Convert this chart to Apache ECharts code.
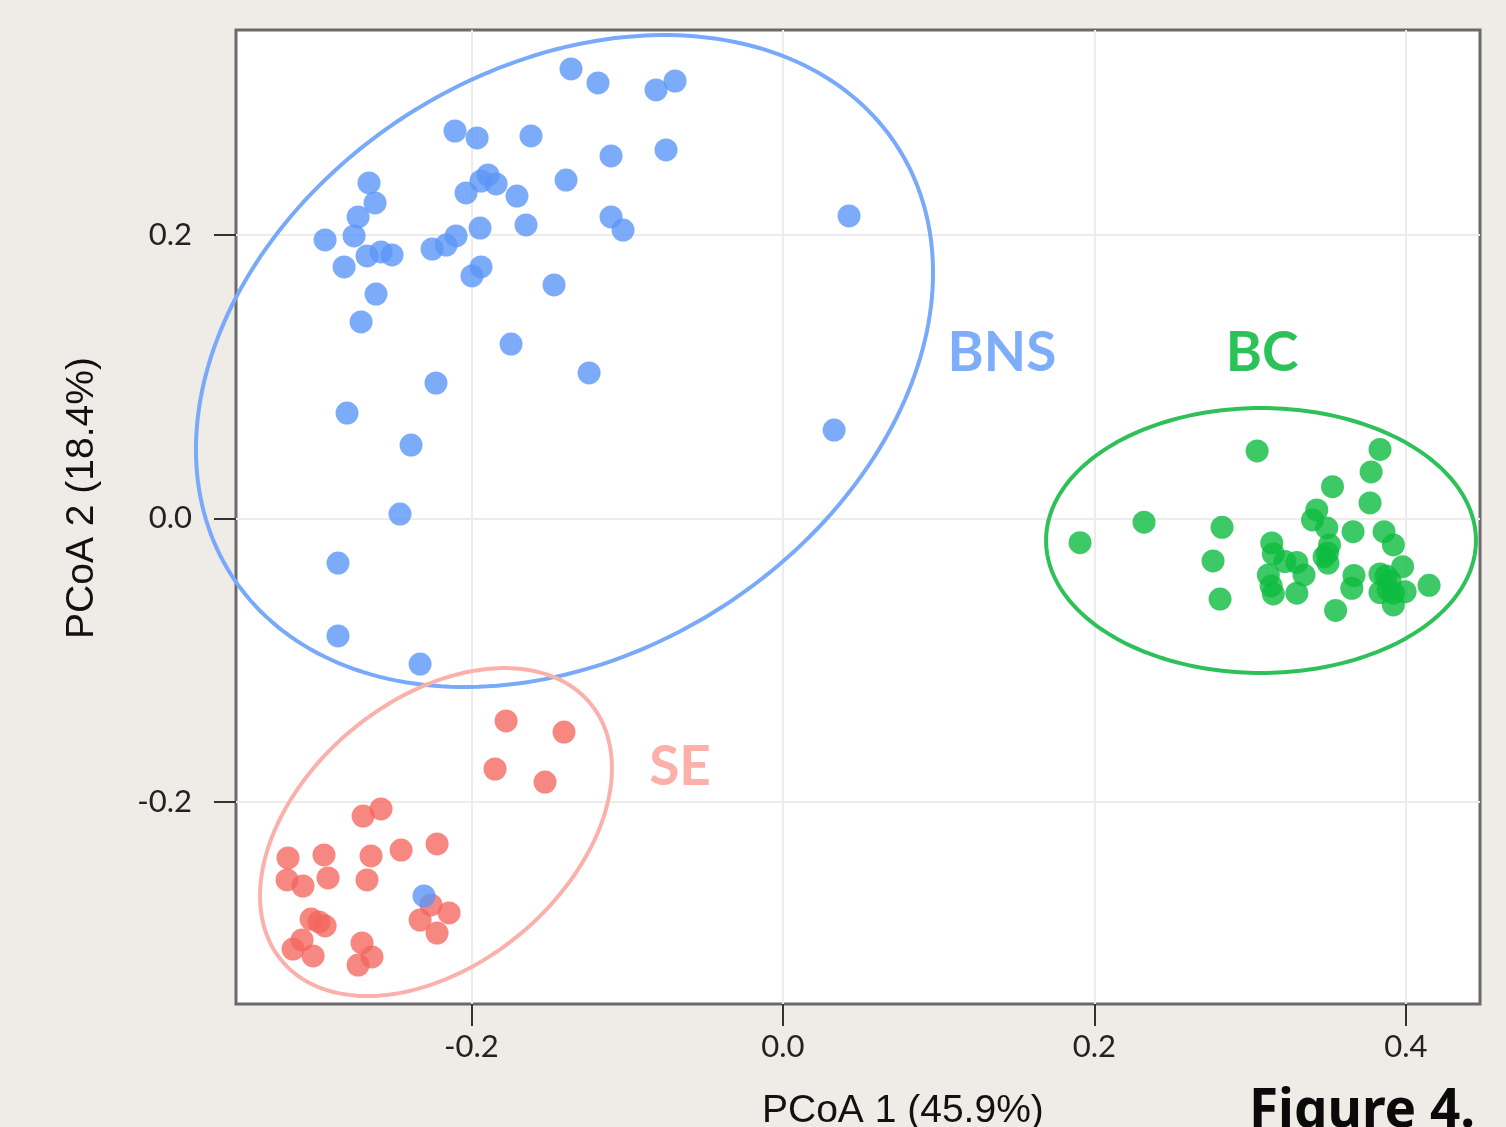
<!DOCTYPE html>
<html><head><meta charset="utf-8">
<script src="https://cdn.jsdelivr.net/npm/echarts@6/dist/echarts.min.js"></script>
<style>html,body{margin:0;padding:0;background:#efebe7;} #c{width:1506px;height:1127px;}</style>
</head><body><div id="c"></div>
<script>
// ---- data (PCoA coordinates) ----
const xRange = [-0.3511, 0.4476];
const yRange = [-0.3429, 0.3447];
const xTicks = [-0.2, 0.0, 0.2, 0.4];
const yTicks = [-0.2, 0.0, 0.2];

const bnsPoints = [
  [-0.1360,0.3172],[-0.1187,0.3073],[-0.0814,0.3024],[-0.0692,0.3087],[-0.2105,0.2734],
  [-0.1963,0.2685],[-0.1617,0.2699],[-0.1103,0.2558],[-0.0750,0.2600],[-0.2657,0.2367],
  [-0.2618,0.2226],[-0.2727,0.2127],[-0.2753,0.1993],[-0.2939,0.1965],[-0.2817,0.1774],
  [-0.2670,0.1852],[-0.2580,0.1880],[-0.2509,0.1859],[-0.2612,0.1583],[-0.2708,0.1386],
  [-0.2034,0.2297],[-0.1938,0.2381],[-0.1893,0.2424],[-0.1841,0.2360],[-0.1707,0.2275],
  [-0.1392,0.2388],[-0.1103,0.2127],[-0.1026,0.2035],[-0.1649,0.2071],[-0.1944,0.2049],
  [-0.2098,0.1993],[-0.2162,0.1929],[-0.2252,0.1901],[-0.1938,0.1774],[-0.1996,0.1711],
  [-0.1469,0.1647],[-0.1745,0.1230],[-0.1244,0.1026],[0.0425,0.2134],[-0.2227,0.0955],
  [-0.2798,0.0743],[-0.2387,0.0517],[-0.2458,0.0030],[0.0329,0.0623],[-0.2856,-0.0316],
  [-0.2856,-0.0831],[-0.2329,-0.1029],[-0.2304,-0.2666]
];
const bcPoints = [
  [0.1908,-0.0172],[0.2319,-0.0028],[0.2820,-0.0064],[0.2762,-0.0301],[0.2807,-0.0570],
  [0.3045,0.0475],[0.3834,0.0486],[0.3777,0.0327],[0.3529,0.0223],[0.3770,0.0108],
  [0.3428,0.0059],[0.3401,-0.0012],[0.3492,-0.0068],[0.3661,-0.0095],[0.3860,-0.0095],
  [0.3920,-0.0188],[0.3139,-0.0174],[0.3149,-0.0252],[0.3224,-0.0306],[0.3300,-0.0312],
  [0.3346,-0.0400],[0.3117,-0.0400],[0.3135,-0.0478],[0.3149,-0.0534],[0.3300,-0.0529],
  [0.3510,-0.0188],[0.3497,-0.0245],[0.3475,-0.0273],[0.3500,-0.0316],[0.3549,-0.0651],
  [0.3667,-0.0404],[0.3653,-0.0494],[0.3834,-0.0393],[0.3979,-0.0342],[0.3834,-0.0524],
  [0.3899,-0.0443],[0.3920,-0.0529],[0.3995,-0.0518],[0.3920,-0.0612],[0.4149,-0.0473],
  [0.3873,-0.0407],[0.3886,-0.0506]
];
const sePoints = [
  [-0.1777,-0.1431],[-0.1405,-0.1509],[-0.1848,-0.1770],[-0.1527,-0.1862],[-0.2580,-0.2052],
  [-0.2695,-0.2102],[-0.3177,-0.2398],[-0.2946,-0.2377],[-0.2644,-0.2384],[-0.2451,-0.2342],
  [-0.2220,-0.2299],[-0.3183,-0.2553],[-0.3081,-0.2596],[-0.2920,-0.2539],[-0.2670,-0.2553],
  [-0.3029,-0.2829],[-0.2978,-0.2850],[-0.2939,-0.2878],[-0.3087,-0.2977],[-0.3145,-0.3041],
  [-0.3016,-0.3090],[-0.2702,-0.2998],[-0.2638,-0.3097],[-0.2727,-0.3154],[-0.2329,-0.2836],
  [-0.2143,-0.2786],[-0.2220,-0.2928],[-0.2259,-0.2730]
];
// ellipse: [centerX, centerY, semiAxis1X, semiAxis1Y, semiAxis2X, semiAxis2Y] in data units
const bnsEllipse = [-0.1402, 0.1110, 0.2137, 0.1514, -0.1016, 0.1733];
const bcEllipse  = [0.3070, -0.0157, 0.1380, 0.0, 0.0, 0.0935];
const seEllipse  = [-0.2227, -0.2215, 0.0990, 0.0909, -0.0544, 0.0717];

const groupNames = ['BNS', 'BC', 'SE'];
const groupLabelX = [0.1407, 0.3077, -0.0660];
const groupLabelY = [0.1167, 0.1167, -0.1761];

// ---- helpers ----
const ellipses = [bnsEllipse, bcEllipse, seEllipse];
const ellipseColors = ['#78a9fa', '#2ec159', '#fbb1ab'];
const labelColors = ['#7eadfc', '#2cc259', '#fdafa9'];

function ellipsePath(e) {
  const pts = [];
  const n = 240;
  for (let i = 0; i <= n; i++) {
    const t = 2 * Math.PI * i / n;
    pts.push([e[0] + e[2] * Math.cos(t) + e[4] * Math.sin(t),
              e[1] + e[3] * Math.cos(t) + e[5] * Math.sin(t)]);
  }
  return pts;
}

const chart = echarts.init(document.getElementById('c'), null, {renderer: 'canvas'});
const tickFont = {fontFamily: 'Lato', fontSize: 31, color: '#222'};
const option = {
  animation: false,
  backgroundColor: '#efebe7',
  grid: {left: 236, top: 30, width: 1244, height: 974, show: true,
         backgroundColor: '#ffffff', borderColor: '#6a6a6a', borderWidth: 3},
  xAxis: {
    type: 'value', min: xRange[0], max: xRange[1], splitNumber: 8,
    minInterval: 0.1, maxInterval: 0.1, position: 'bottom',
    axisLine: {show: false, onZero: false},
    axisTick: {show: true, inside: false, customValues: xTicks, length: 22,
               lineStyle: {color: '#333', width: 2}},
    axisLabel: Object.assign({customValues: xTicks, margin: 27,
               formatter: v => v.toFixed(1)}, tickFont),
    splitLine: {show: true, lineStyle: {color: '#ececec', width: 2}}
  },
  yAxis: {
    type: 'value', min: yRange[0], max: yRange[1], splitNumber: 7,
    minInterval: 0.1, maxInterval: 0.1, position: 'left',
    axisLine: {show: false, onZero: false},
    axisTick: {show: true, inside: false, customValues: yTicks, length: 22,
               lineStyle: {color: '#333', width: 2}},
    axisLabel: Object.assign({customValues: yTicks, margin: 44,
               formatter: v => v.toFixed(1)}, tickFont),
    splitLine: {show: true, lineStyle: {color: '#ececec', width: 2}}
  },
  series: [
    {type: 'scatter', name: 'SE', data: sePoints, symbolSize: 23, silent: true,
     itemStyle: {color: '#f4655e', opacity: 0.78}},
    {type: 'scatter', name: 'BNS', data: bnsPoints, symbolSize: 23, silent: true,
     itemStyle: {color: '#5b96f8', opacity: 0.8}},
    {type: 'scatter', name: 'BC', data: bcPoints, symbolSize: 23, silent: true,
     itemStyle: {color: '#0cbb3e', opacity: 0.8}},
    {type: 'custom', coordinateSystem: 'cartesian2d', clip: false, silent: true,
     data: ellipses.map((e, i) => [e[0], e[1], i]),
     encode: {x: 0, y: 1},
     renderItem: (params, api) => {
       const idx = params.dataIndex;
       const pts = ellipsePath(ellipses[idx]).map(p => api.coord(p));
       return {type: 'polyline', shape: {points: pts},
               style: {stroke: ellipseColors[idx], lineWidth: 4, fill: null}};
     }},
    {type: 'custom', coordinateSystem: 'cartesian2d', clip: false, silent: true,
     data: groupNames.map((n, i) => [groupLabelX[i], groupLabelY[i], i]),
     encode: {x: 0, y: 1},
     renderItem: (params, api) => {
       const idx = params.dataIndex;
       const p = api.coord([api.value(0), api.value(1)]);
       return {type: 'text', x: p[0], y: p[1],
               style: {text: groupNames[idx], fill: labelColors[idx],
                       font: 'bold 55px Lato, sans-serif', align: 'center', verticalAlign: 'middle'}};
     }}
  ],
  graphic: [
    {type: 'text', left: 762, top: 1092, silent: true,
     style: {text: 'PCoA 1 (45.9%)', font: '39px "Liberation Sans", Arial, sans-serif', fill: '#111'}},
    {type: 'text', x: 82, y: 498, rotation: Math.PI / 2, silent: true,
     style: {text: 'PCoA 2 (18.4%)', font: '39px "Liberation Sans", Arial, sans-serif', fill: '#111',
             align: 'center', verticalAlign: 'middle'}},
    {type: 'text', left: 1249, top: 1085, silent: true,
     style: {text: 'Figure 4.', font: 'bold 53px "Noto Sans", sans-serif', fill: '#0a0a0a'}}
  ]
};
chart.setOption(option);
</script></body></html>
